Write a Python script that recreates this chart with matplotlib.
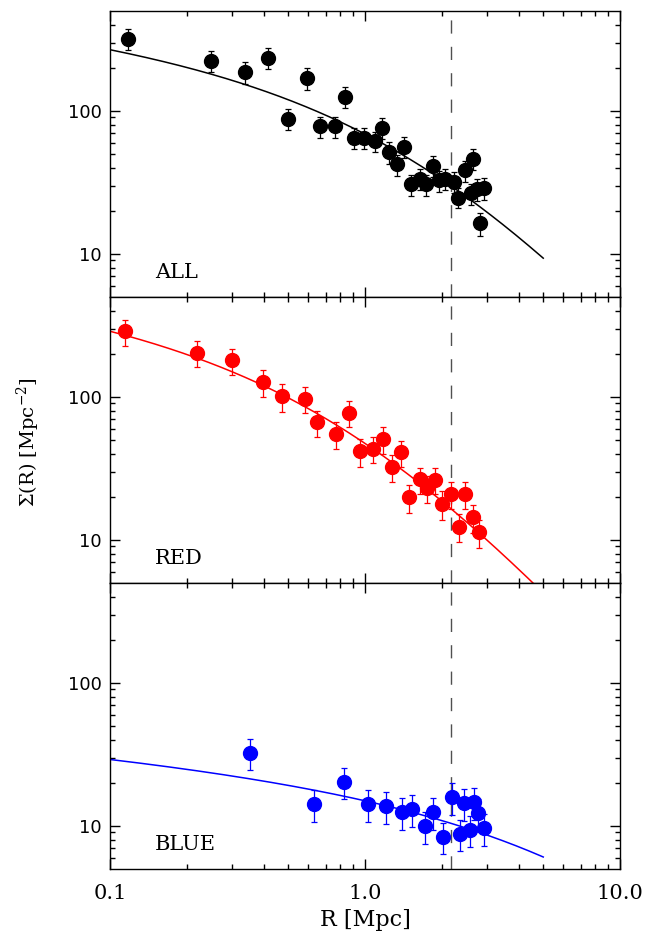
import numpy as np
import matplotlib
matplotlib.use('Agg')
import matplotlib.pyplot as plt
from matplotlib.ticker import FixedLocator, FixedFormatter, NullFormatter

# ---------------- data ----------------
r_all = [0.118, 0.248, 0.338, 0.415, 0.497, 0.593, 0.664, 0.766, 0.832, 0.902,
         0.994, 1.094, 1.163, 1.237, 1.336, 1.416, 1.52, 1.648, 1.74, 1.844,
         1.955, 2.065, 2.224, 2.324, 2.464, 2.595, 2.653, 2.75, 2.83, 2.94]
s_all = [320, 225, 187, 236, 88.4, 170, 78.2, 78.0, 126, 64.8,
         64.8, 61.4, 76.5, 51.8, 42.3, 56.1, 30.6, 33.7, 30.6, 41.3,
         32.8, 33.7, 32.0, 24.8, 38.5, 26.5, 46.5, 28.4, 16.4, 29.0]
e_all = [55, 38, 32, 40, 15, 29, 13, 13, 21, 11,
         11, 10, 13, 9, 7, 9.5, 5, 5.5, 5, 7,
         5.5, 5.5, 5.5, 4, 6.5, 4.5, 8, 4.8, 3, 5]

r_red = [0.1145, 0.2203, 0.300, 0.3995, 0.4737, 0.584, 0.6475, 0.773, 0.865, 0.959,
         1.074, 1.175, 1.273, 1.380, 1.491, 1.648, 1.757, 1.886, 1.999, 2.167,
         2.347, 2.478, 2.643, 2.803]
s_red = [288, 203, 180, 127, 101, 96.8, 66.4, 55.3, 77.3, 41.6,
         43.4, 51.0, 32.3, 40.9, 19.9, 26.6, 23.0, 26.4, 17.9, 21.0,
         12.4, 20.9, 14.4, 11.3]
e_red = [60, 42, 37, 27, 22, 20, 14, 12, 16, 9,
         9, 11, 7, 8.5, 4.5, 5.5, 5, 5.5, 4, 4.5,
         2.8, 4.5, 3.2, 2.5]

r_blue = [0.3546, 0.631, 0.824, 1.023, 1.205, 1.402, 1.535, 1.718, 1.845, 2.031,
          2.188, 2.362, 2.438, 2.586, 2.686, 2.766, 2.922]
s_blue = [32.5, 14.2, 20.4, 14.2, 13.9, 12.5, 13.2, 10.0, 12.6, 8.43,
          15.9, 8.84, 14.4, 9.38, 14.7, 12.4, 9.64]
e_blue = [8, 3.6, 5, 3.6, 3.5, 3.1, 3.3, 2.5, 3.2, 2.1,
          4, 2.2, 3.6, 2.3, 3.7, 3.1, 2.4]

# projected NFW fit parameters (amplitude, scale radius [Mpc])
fit_all = (99.3, 2.0)
fit_red = (142.0, 1.0)
fit_blue = (6.2, 15.0)
r_fit_min, r_fit_max = 0.1, 5.0

r200 = 2.17

panel_names = ['ALL', 'RED', 'BLUE']
panel_colors = ['black', '#ff0000', '#0000ff']

x_major = [0.1, 1.0, 10.0]
x_major_labels = ['0.1', '1.0', '10.0']
y_major = [10, 100]
y_major_labels = ['10', '100']
y_minor = [6, 7, 8, 9, 20, 30, 40, 50, 60, 70, 80, 90, 200, 300, 400]
x_minor = [0.2, 0.3, 0.4, 0.5, 0.6, 0.7, 0.8, 0.9, 2, 3, 4, 5, 6, 7, 8, 9]


def nfw_proj(x):
    x = np.asarray(x, float)
    f = np.full_like(x, 1.0 / 3.0)
    lo = x < 1
    hi = x > 1
    xl = x[lo]
    f[lo] = (1 - 2 / np.sqrt(1 - xl**2) * np.arctanh(np.sqrt((1 - xl) / (1 + xl)))) / (xl**2 - 1)
    xh = x[hi]
    f[hi] = (1 - 2 / np.sqrt(xh**2 - 1) * np.arctan(np.sqrt((xh - 1) / (xh + 1)))) / (xh**2 - 1)
    return f


plt.rcParams['font.family'] = ['DejaVu Serif']
plt.rcParams['mathtext.fontset'] = 'dejavuserif'

fig = plt.figure(figsize=(6.59, 9.36), dpi=100)
left, width = 110 / 659, 510 / 659
h = 286 / 936
bottom0 = (936 - 869) / 936

datasets = [(r_all, s_all, e_all, fit_all),
            (r_red, s_red, e_red, fit_red),
            (r_blue, s_blue, e_blue, fit_blue)]

rgrid = np.logspace(np.log10(r_fit_min), np.log10(r_fit_max), 300)

for i, ((r, s, e, fit), name, col) in enumerate(zip(datasets, panel_names, panel_colors)):
    ax = fig.add_axes([left, bottom0 + (2 - i) * h, width, h])
    ax.set_xscale('log')
    ax.set_yscale('log')
    ax.set_xlim(0.1, 10)
    ax.set_ylim(5, 500)

    A, rs = fit
    ax.plot(rgrid, A * nfw_proj(rgrid / rs), color=col, lw=1.1, zorder=2)
    ax.errorbar(r, s, yerr=e, fmt='o', color=col, ecolor=col, ms=10,
                elinewidth=0.9, capsize=2.5, capthick=0.9, zorder=3)
    ax.axvline(r200, color='#505050', lw=1.0, dashes=(9.5, 9.5), zorder=1)

    ax.text(0.088, 0.067, name, transform=ax.transAxes, fontsize=15,
            family='DejaVu Serif', ha='left', va='baseline')

    ax.xaxis.set_major_locator(FixedLocator(x_major))
    ax.xaxis.set_minor_locator(FixedLocator(x_minor))
    ax.yaxis.set_major_locator(FixedLocator(y_major))
    ax.yaxis.set_minor_locator(FixedLocator(y_minor))
    ax.yaxis.set_major_formatter(FixedFormatter(y_major_labels))
    ax.yaxis.set_minor_formatter(NullFormatter())
    ax.xaxis.set_minor_formatter(NullFormatter())
    if i == 2:
        ax.xaxis.set_major_formatter(FixedFormatter(x_major_labels))
    else:
        ax.xaxis.set_major_formatter(NullFormatter())

    ax.tick_params(which='both', direction='in', top=True, right=True,
                   width=1.0, colors='black')
    ax.tick_params(which='major', length=7)
    ax.tick_params(which='minor', length=3.5)
    ax.tick_params(axis='y', which='major', labelsize=13, pad=6)
    ax.tick_params(axis='x', which='major', labelsize=15, pad=11)
    for lab in ax.get_yticklabels():
        lab.set_family('DejaVu Sans')
    for sp in ax.spines.values():
        sp.set_linewidth(1.0)

    if i == 2:
        ax.set_xlabel('R [Mpc]', fontsize=16, labelpad=4)

fig.text(28 / 659, 1 - 442 / 936, r'$\Sigma$(R) [Mpc$^{-2}$]', rotation=90,
         ha='center', va='center', fontsize=14)

fig.savefig('out.png', dpi=100)
